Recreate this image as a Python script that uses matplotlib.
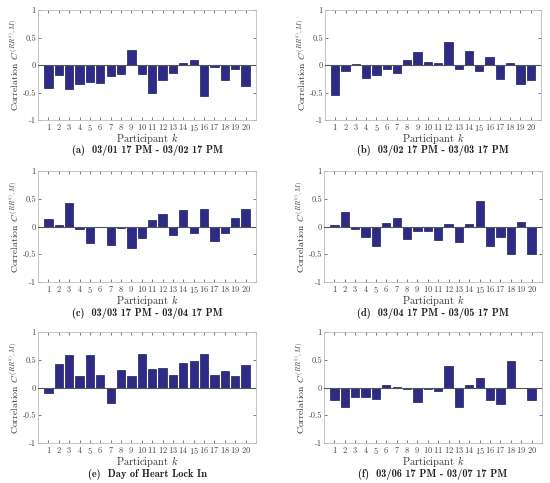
import numpy as np
import matplotlib
matplotlib.use('Agg')
import matplotlib.pyplot as plt

plt.rcParams['font.family'] = 'serif'
plt.rcParams['font.serif'] = ['cmr10', 'DejaVu Serif']
plt.rcParams['mathtext.fontset'] = 'cm'
plt.rcParams['axes.unicode_minus'] = False
plt.rcParams['axes.formatter.use_mathtext'] = True

participants = np.arange(1, 21)

corr_a = [-0.41, -0.18, -0.44, -0.35, -0.30, -0.33, -0.20, -0.17, 0.27, -0.16,
          -0.51, -0.27, -0.15, 0.04, 0.09, -0.56, -0.04, -0.27, -0.08, -0.39]
corr_b = [-0.54, -0.10, 0.01, -0.23, -0.18, -0.08, -0.14, 0.09, 0.23, 0.06,
          0.03, 0.42, -0.08, 0.25, -0.11, 0.15, -0.25, 0.03, -0.35, -0.27]
corr_c = [0.13, 0.03, 0.42, -0.04, -0.30, 0.0, -0.33, -0.02, -0.39, -0.20,
          0.11, 0.22, -0.16, 0.29, -0.12, 0.32, -0.26, -0.12, 0.16, 0.31]
corr_d = [0.03, 0.27, -0.04, -0.19, -0.36, 0.07, 0.15, -0.23, -0.09, -0.09,
          -0.25, 0.04, -0.28, 0.05, 0.46, -0.36, -0.19, -0.49, 0.08, -0.49]
corr_e = [-0.10, 0.42, 0.58, 0.20, 0.59, 0.23, -0.28, 0.31, 0.20, 0.60,
          0.34, 0.35, 0.23, 0.44, 0.47, 0.60, 0.22, 0.29, 0.20, 0.41]
corr_f = [-0.23, -0.35, -0.18, -0.17, -0.21, 0.04, 0.01, -0.02, -0.27, -0.02,
          -0.06, 0.38, -0.35, 0.04, 0.17, -0.22, -0.29, 0.47, -0.01, -0.23]

tags = ['(a)', '(b)', '(c)', '(d)', '(e)', '(f)']
captions = ['03/01 17 PM - 03/02 17 PM', '03/02 17 PM - 03/03 17 PM',
            '03/03 17 PM - 03/04 17 PM', '03/04 17 PM - 03/05 17 PM',
            'Day of Heart Lock In', '03/06 17 PM - 03/07 17 PM']
series = [corr_a, corr_b, corr_c, corr_d, corr_e, corr_f]

# axes boxes in pixels: left, top, right, bottom
boxes = [(38, 10, 256, 120), (325, 10, 541, 120),
         (38, 171, 256, 282), (324, 171, 542, 282),
         (38, 332, 256, 443), (324, 332, 542, 443)]

W, H = 550, 483
fig = plt.figure(figsize=(W / 100, H / 100), dpi=100)

for i in range(6):
    l, t, r, b = boxes[i]
    ax = fig.add_axes([l / W, 1 - b / H, (r - l) / W, (b - t) / H])
    ax.bar(participants, series[i], width=0.8, color='#2e2b87',
           edgecolor='#1c1a5e', linewidth=0.5, zorder=2)
    ax.axhline(0, color='#555555', linewidth=0.8, zorder=3)
    ax.set_xlim(0, 21)
    ax.set_ylim(-1, 1)
    ax.set_xticks(participants)
    ax.set_yticks([-1, -0.5, 0, 0.5, 1])
    ax.set_yticklabels(['-1', '-0.5', '0', '0.5', '1'])
    ax.tick_params(direction='in', length=2, width=0.5, labelsize=6,
                   colors='#444444', top=True, right=True, pad=1.5)
    for sp in ax.spines.values():
        sp.set_color('#bbbbbb')
        sp.set_linewidth(0.6)
    ax.set_xlabel('Participant $k$', fontsize=7.5, color='#333333', va='top')
    ax.xaxis.set_label_coords(0.5, -0.1)
    ax.set_ylabel('Correlation $C^{(RR^{(i)},M)}$', fontsize=7,
                  color='#333333', labelpad=1)
    ax.text(0.5, -0.23, tags[i] + '  ' + captions[i], transform=ax.transAxes,
            ha='center', va='top', fontsize=7.5, color='#222222',
            family='cmb10')

fig.savefig('out.png', dpi=100)
